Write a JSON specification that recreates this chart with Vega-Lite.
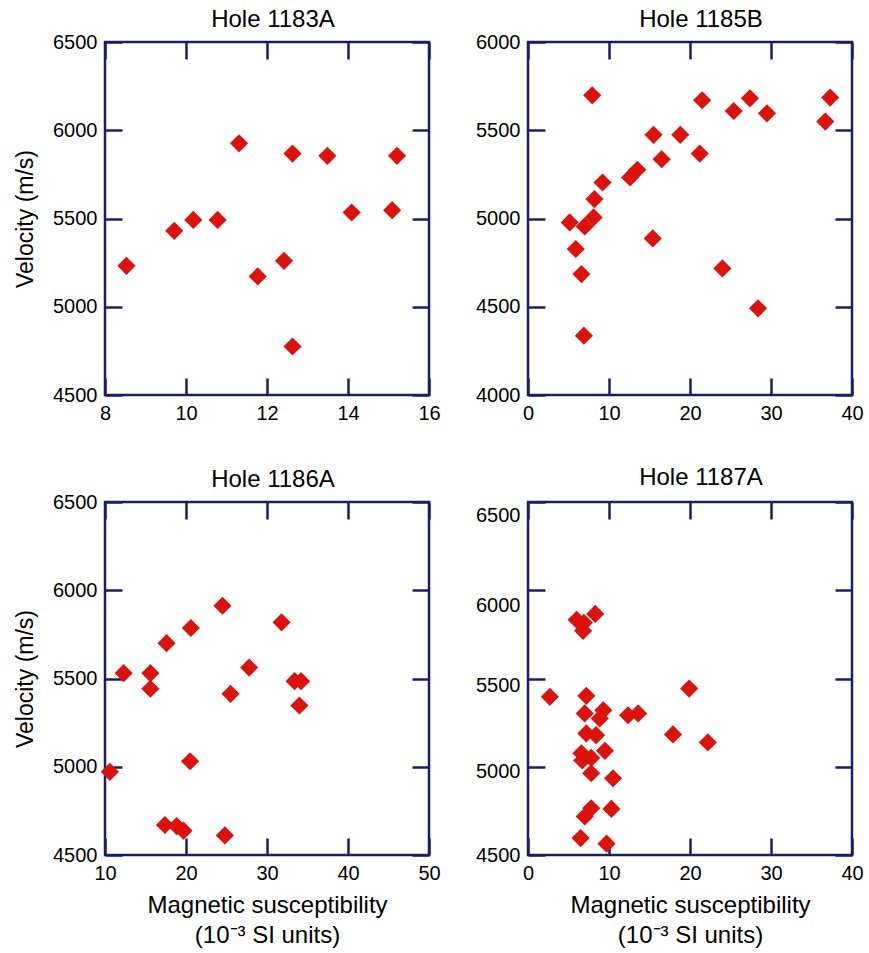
{
  "$schema": "https://vega.github.io/schema/vega-lite/v6.json",
  "background": "white",
  "padding": {"left": 13, "top": 6, "right": 5, "bottom": 3},
  "datasets": {
    "h1183": [
      {"susceptibility": 8.53, "velocity": 5232},
      {"susceptibility": 9.71, "velocity": 5430},
      {"susceptibility": 10.18, "velocity": 5492},
      {"susceptibility": 10.78, "velocity": 5492},
      {"susceptibility": 11.31, "velocity": 5926},
      {"susceptibility": 11.77, "velocity": 5172},
      {"susceptibility": 12.42, "velocity": 5260},
      {"susceptibility": 12.63, "velocity": 5868},
      {"susceptibility": 12.63, "velocity": 4775},
      {"susceptibility": 13.49, "velocity": 5855},
      {"susceptibility": 14.09, "velocity": 5534},
      {"susceptibility": 15.09, "velocity": 5547},
      {"susceptibility": 15.21, "velocity": 5855}
    ],
    "h1185": [
      {"susceptibility": 7.93, "velocity": 5698},
      {"susceptibility": 21.5, "velocity": 5670},
      {"susceptibility": 27.4, "velocity": 5681},
      {"susceptibility": 25.4, "velocity": 5609},
      {"susceptibility": 29.5, "velocity": 5596},
      {"susceptibility": 37.3, "velocity": 5685},
      {"susceptibility": 36.7, "velocity": 5549},
      {"susceptibility": 15.5, "velocity": 5474},
      {"susceptibility": 18.8, "velocity": 5474},
      {"susceptibility": 21.2, "velocity": 5368},
      {"susceptibility": 16.5, "velocity": 5336},
      {"susceptibility": 12.6, "velocity": 5233},
      {"susceptibility": 13.5, "velocity": 5276},
      {"susceptibility": 9.2, "velocity": 5204},
      {"susceptibility": 8.2, "velocity": 5110},
      {"susceptibility": 8.1, "velocity": 5006},
      {"susceptibility": 7.0, "velocity": 4955},
      {"susceptibility": 5.15, "velocity": 4978},
      {"susceptibility": 5.9, "velocity": 4827},
      {"susceptibility": 6.6, "velocity": 4685},
      {"susceptibility": 6.9, "velocity": 4336},
      {"susceptibility": 15.4, "velocity": 4887},
      {"susceptibility": 24.0, "velocity": 4717},
      {"susceptibility": 28.4, "velocity": 4491}
    ],
    "h1186": [
      {"susceptibility": 24.5, "velocity": 5912},
      {"susceptibility": 31.8, "velocity": 5818},
      {"susceptibility": 20.6, "velocity": 5786},
      {"susceptibility": 17.6, "velocity": 5700},
      {"susceptibility": 12.3, "velocity": 5530},
      {"susceptibility": 15.6, "velocity": 5530},
      {"susceptibility": 15.6, "velocity": 5442},
      {"susceptibility": 27.8, "velocity": 5562},
      {"susceptibility": 25.5, "velocity": 5413},
      {"susceptibility": 33.4, "velocity": 5485},
      {"susceptibility": 34.2, "velocity": 5485},
      {"susceptibility": 34.0, "velocity": 5347},
      {"susceptibility": 20.5, "velocity": 5031},
      {"susceptibility": 10.6, "velocity": 4971},
      {"susceptibility": 17.4, "velocity": 4670},
      {"susceptibility": 18.85, "velocity": 4664},
      {"susceptibility": 19.7, "velocity": 4638},
      {"susceptibility": 24.8, "velocity": 4611}
    ],
    "h1187": [
      {"susceptibility": 6.0, "velocity": 5833},
      {"susceptibility": 6.9, "velocity": 5816},
      {"susceptibility": 6.8, "velocity": 5770},
      {"susceptibility": 8.3, "velocity": 5866},
      {"susceptibility": 2.7, "velocity": 5396},
      {"susceptibility": 7.2, "velocity": 5402},
      {"susceptibility": 19.9, "velocity": 5443},
      {"susceptibility": 7.0, "velocity": 5302},
      {"susceptibility": 9.3, "velocity": 5320},
      {"susceptibility": 8.85, "velocity": 5274},
      {"susceptibility": 12.35, "velocity": 5292},
      {"susceptibility": 13.6, "velocity": 5302},
      {"susceptibility": 7.2, "velocity": 5189},
      {"susceptibility": 8.4, "velocity": 5179},
      {"susceptibility": 9.5, "velocity": 5090},
      {"susceptibility": 17.9, "velocity": 5183},
      {"susceptibility": 22.2, "velocity": 5138},
      {"susceptibility": 6.6, "velocity": 5076},
      {"susceptibility": 6.7, "velocity": 5036},
      {"susceptibility": 7.8, "velocity": 5050},
      {"susceptibility": 7.8, "velocity": 4963},
      {"susceptibility": 10.5, "velocity": 4935},
      {"susceptibility": 7.0, "velocity": 4718},
      {"susceptibility": 7.8, "velocity": 4765},
      {"susceptibility": 10.3, "velocity": 4761},
      {"susceptibility": 6.5, "velocity": 4596},
      {"susceptibility": 9.7, "velocity": 4564}
    ]
  },
  "columns": 2,
  "spacing": {"row": 107, "column": 99},
  "bounds": "flush",
  "concat": [
    {
      "width": 324, "height": 353,
      "title": {"text": "Hole 1183A", "dx": 6, "offset": 0},
      "data": {"name": "h1183"},
      "layer": [
        {
          "mark": {"type": "point", "opacity": 1},
          "encoding": {
            "x": {"field": "susceptibility", "type": "quantitative", "scale": {"domain": [8, 16], "nice": false, "zero": false},
                  "axis": {"orient": "bottom", "values": [8, 10, 12, 14, 16], "title": null, "format": "d"}},
            "y": {"field": "velocity", "type": "quantitative", "scale": {"domain": [4500, 6500], "nice": false, "zero": false},
                  "axis": {"orient": "left", "values": [4500, 5000, 5500, 6000, 6500], "title": "Velocity (m/s)", "format": "d"}}
          }
        },
        {
          "mark": {"type": "point", "opacity": 0},
          "encoding": {
            "x": {"field": "susceptibility", "type": "quantitative", "scale": {"domain": [8, 16], "nice": false, "zero": false},
                  "axis": {"orient": "top", "values": [8, 10, 12, 14, 16], "labels": false, "title": null}},
            "y": {"field": "velocity", "type": "quantitative", "scale": {"domain": [4500, 6500], "nice": false, "zero": false},
                  "axis": {"orient": "right", "values": [4500, 5000, 5500, 6000, 6500], "labels": false, "title": null}}
          }
        }
      ],
      "resolve": {"axis": {"x": "independent", "y": "independent"}}
    },
    {
      "width": 324, "height": 353,
      "title": {"text": "Hole 1185B", "dx": 11, "offset": 0},
      "data": {"name": "h1185"},
      "layer": [
        {
          "mark": {"type": "point", "opacity": 1},
          "encoding": {
            "x": {"field": "susceptibility", "type": "quantitative", "scale": {"domain": [0, 40], "nice": false, "zero": false},
                  "axis": {"orient": "bottom", "values": [0, 10, 20, 30, 40], "title": null, "format": "d"}},
            "y": {"field": "velocity", "type": "quantitative", "scale": {"domain": [4000, 6000], "nice": false, "zero": false},
                  "axis": {"orient": "left", "values": [4000, 4500, 5000, 5500, 6000], "title": null, "format": "d"}}
          }
        },
        {
          "mark": {"type": "point", "opacity": 0},
          "encoding": {
            "x": {"field": "susceptibility", "type": "quantitative", "scale": {"domain": [0, 40], "nice": false, "zero": false},
                  "axis": {"orient": "top", "values": [0, 10, 20, 30, 40], "labels": false, "title": null}},
            "y": {"field": "velocity", "type": "quantitative", "scale": {"domain": [4000, 6000], "nice": false, "zero": false},
                  "axis": {"orient": "right", "values": [4000, 4500, 5000, 5500, 6000], "labels": false, "title": null}}
          }
        }
      ],
      "resolve": {"axis": {"x": "independent", "y": "independent"}}
    },
    {
      "width": 324, "height": 353,
      "title": {"text": "Hole 1186A", "dx": 6, "offset": 0},
      "data": {"name": "h1186"},
      "layer": [
        {
          "mark": {"type": "point", "opacity": 1},
          "encoding": {
            "x": {"field": "susceptibility", "type": "quantitative", "scale": {"domain": [10, 50], "nice": false, "zero": false},
                  "axis": {"orient": "bottom", "values": [10, 20, 30, 40, 50], "title": ["Magnetic susceptibility", "(10⁻³ SI units)"], "format": "d"}},
            "y": {"field": "velocity", "type": "quantitative", "scale": {"domain": [4500, 6500], "nice": false, "zero": false},
                  "axis": {"orient": "left", "values": [4500, 5000, 5500, 6000, 6500], "title": "Velocity (m/s)", "format": "d"}}
          }
        },
        {
          "mark": {"type": "point", "opacity": 0},
          "encoding": {
            "x": {"field": "susceptibility", "type": "quantitative", "scale": {"domain": [10, 50], "nice": false, "zero": false},
                  "axis": {"orient": "top", "values": [10, 20, 30, 40, 50], "labels": false, "title": null}},
            "y": {"field": "velocity", "type": "quantitative", "scale": {"domain": [4500, 6500], "nice": false, "zero": false},
                  "axis": {"orient": "right", "values": [4500, 5000, 5500, 6000, 6500], "labels": false, "title": null}}
          }
        }
      ],
      "resolve": {"axis": {"x": "independent", "y": "independent"}}
    },
    {
      "width": 324, "height": 353,
      "title": {"text": "Hole 1187A", "dx": 11, "offset": 11},
      "data": {"name": "h1187"},
      "layer": [
        {
          "mark": {"type": "point", "opacity": 1},
          "encoding": {
            "x": {"field": "susceptibility", "type": "quantitative", "scale": {"domain": [0, 40], "nice": false, "zero": false},
                  "axis": {"orient": "bottom", "values": [0, 10, 20, 30, 40], "title": ["Magnetic susceptibility", "(10⁻³ SI units)"], "format": "d"}},
            "y": {"field": "velocity", "type": "quantitative", "scale": {"domain": [4500, 6500], "nice": false, "zero": false},
                  "axis": {"orient": "left", "values": [4500, 5000, 5500, 6000, 6500], "title": null, "format": "d",
                           "labelOffset": {"condition": [{"test": "datum.value == 6500", "value": 13}, {"test": "datum.value == 6000", "value": 15}, {"test": "datum.value == 5500", "value": 7}, {"test": "datum.value == 5000", "value": 5}], "value": 0}}}
          }
        },
        {
          "mark": {"type": "point", "opacity": 0},
          "encoding": {
            "x": {"field": "susceptibility", "type": "quantitative", "scale": {"domain": [0, 40], "nice": false, "zero": false},
                  "axis": {"orient": "top", "values": [0, 10, 20, 30, 40], "labels": false, "title": null}},
            "y": {"field": "velocity", "type": "quantitative", "scale": {"domain": [4500, 6500], "nice": false, "zero": false},
                  "axis": {"orient": "right", "values": [4500, 5000, 5500, 6000, 6500], "labels": false, "title": null}}
          }
        }
      ],
      "resolve": {"axis": {"x": "independent", "y": "independent"}}
    }
  ],
  "config": {
    "view": {"stroke": "#1c1c6e", "strokeWidth": 2.5},
    "font": "Liberation Sans",
    "axis": {
      "domain": false, "grid": false,
      "ticks": true, "tickColor": "#1c1c6e", "tickWidth": 2.5, "tickSize": -17,
      "labelFont": "Liberation Sans", "labelFontSize": 20, "labelColor": "black", "labelPadding": 25,
      "labelFlush": false, "labelOverlap": false,
      "titleFont": "Liberation Sans", "titleFontSize": 23, "titleFontWeight": "normal", "titleColor": "black",
      "titleLineHeight": 30
    },
    "axisLeft": {"titlePadding": 15},
    "axisBottom": {"titlePadding": 10, "titleFontSize": 24},
    "title": {"font": "Liberation Sans", "fontSize": 24, "fontWeight": "normal", "color": "black", "baseline": "alphabetic"},
    "point": {"shape": "diamond", "filled": true, "size": 330, "color": "#dc120c"}
  }
}
